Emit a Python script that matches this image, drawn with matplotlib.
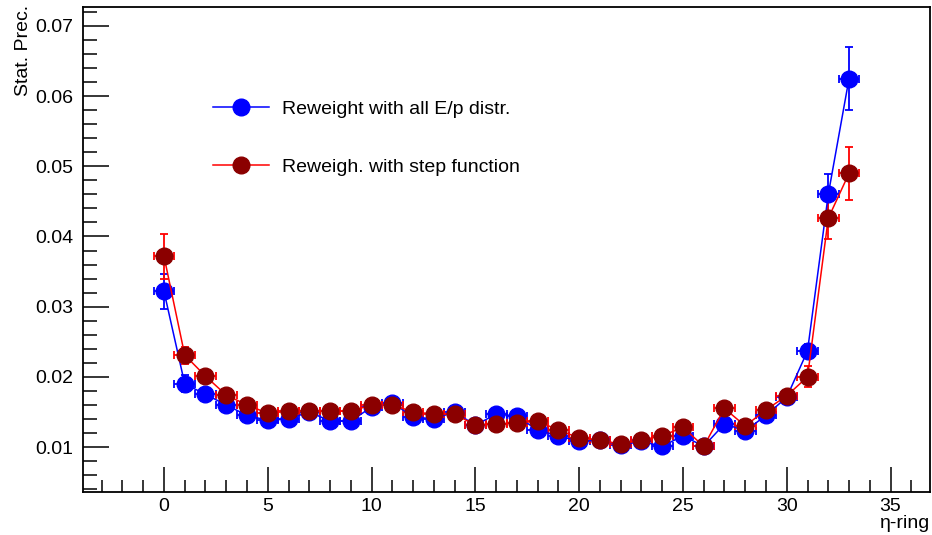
import matplotlib.pyplot as plt
from matplotlib.ticker import MultipleLocator
import numpy as np

plt.rcParams['font.family'] = ['Liberation Sans', 'DejaVu Sans']

ring = np.arange(34)

# Reweight with all E/p distr.
prec_all = [0.0322, 0.0190, 0.0175, 0.0160, 0.0145, 0.0138, 0.0140, 0.0150, 0.0137, 0.0137,
            0.0157, 0.0163, 0.0143, 0.0140, 0.0150, 0.0131, 0.0147, 0.0144, 0.0124, 0.0116,
            0.0108, 0.0110, 0.0103, 0.0108, 0.0101, 0.0116, 0.0101, 0.0133, 0.0123, 0.0145,
            0.0171, 0.0237, 0.0460, 0.0625]
err_all = [0.0025, 0.0012, 0.0008, 0.0007, 0.0006, 0.0006, 0.0006, 0.0006, 0.0006, 0.0006,
           0.0006, 0.0006, 0.0006, 0.0006, 0.0006, 0.0005, 0.0006, 0.0006, 0.0005, 0.0005,
           0.0005, 0.0005, 0.0005, 0.0005, 0.0005, 0.0005, 0.0005, 0.0006, 0.0005, 0.0006,
           0.0007, 0.0010, 0.0029, 0.0045]

# Reweigh. with step function
prec_step = [0.0372, 0.0231, 0.0201, 0.0174, 0.0160, 0.0148, 0.0151, 0.0151, 0.0151, 0.0151,
             0.0160, 0.0160, 0.0150, 0.0147, 0.0147, 0.0131, 0.0133, 0.0134, 0.0137, 0.0124,
             0.0113, 0.0110, 0.0104, 0.0110, 0.0116, 0.0128, 0.0101, 0.0155, 0.0130, 0.0153,
             0.0173, 0.0200, 0.0426, 0.0490]
err_step = [0.0032, 0.0012, 0.0009, 0.0007, 0.0006, 0.0006, 0.0006, 0.0006, 0.0006, 0.0006,
            0.0006, 0.0006, 0.0006, 0.0006, 0.0006, 0.0005, 0.0005, 0.0005, 0.0006, 0.0005,
            0.0005, 0.0005, 0.0005, 0.0005, 0.0005, 0.0005, 0.0005, 0.0006, 0.0005, 0.0006,
            0.0007, 0.0015, 0.0030, 0.0038]

fig = plt.figure(figsize=(9.32, 5.35), dpi=100)
ax = fig.add_axes([83/932, 1-492/535, (930-83)/932, (492-7)/535])

ax.errorbar(ring, prec_all, yerr=err_all, xerr=0.5, color='#0000ff', ecolor='#0000ff',
            marker='o', ms=12, mec='#0000ff', mfc='#0000ff', lw=1.1, elinewidth=1.3,
            capsize=3, capthick=1.3, label='Reweight with all E/p distr.')
ax.errorbar(ring, prec_step, yerr=err_step, xerr=0.5, color='#ff0000', ecolor='#ff0000',
            marker='o', ms=12, mec='#8b0000', mfc='#8b0000', lw=1.1, elinewidth=1.3,
            capsize=3, capthick=1.3, label='Reweigh. with step function')

ax.set_xlim(-3.9, 36.9)
ax.set_ylim(0.00359, 0.0727)

ax.xaxis.set_major_locator(MultipleLocator(5))
ax.xaxis.set_minor_locator(MultipleLocator(1))
ax.yaxis.set_major_locator(MultipleLocator(0.01))
ax.yaxis.set_minor_locator(MultipleLocator(0.002))
ax.tick_params(which='both', direction='in', top=False, right=False, labelsize=14, width=1.1)
ax.tick_params(axis='x', which='major', length=18, pad=4)
ax.tick_params(axis='x', which='minor', length=9)
ax.tick_params(axis='y', which='major', length=19, pad=7)
ax.tick_params(axis='y', which='minor', length=10)
ax.set_yticks([0.01, 0.02, 0.03, 0.04, 0.05, 0.06, 0.07])
ax.set_yticklabels(['0.01', '0.02', '0.03', '0.04', '0.05', '0.06', '0.07'])
for s in ax.spines.values():
    s.set_linewidth(1.3)

h, l = ax.get_legend_handles_labels()
h = [x[0] for x in h]
ax.legend(h, l, loc='upper left', bbox_to_anchor=(0.1535, 0.807), frameon=False,
          fontsize=14, borderpad=0, borderaxespad=0, handlelength=2.9,
          handletextpad=0.65, labelspacing=2.05)

fig.text(24/932, 1-5/535, 'Stat. Prec.', rotation=90, ha='center', va='top', fontsize=14)
fig.text(930/932, 1-523/535, 'η-ring', ha='right', va='center', fontsize=14)

fig.savefig('out.png', dpi=100)
